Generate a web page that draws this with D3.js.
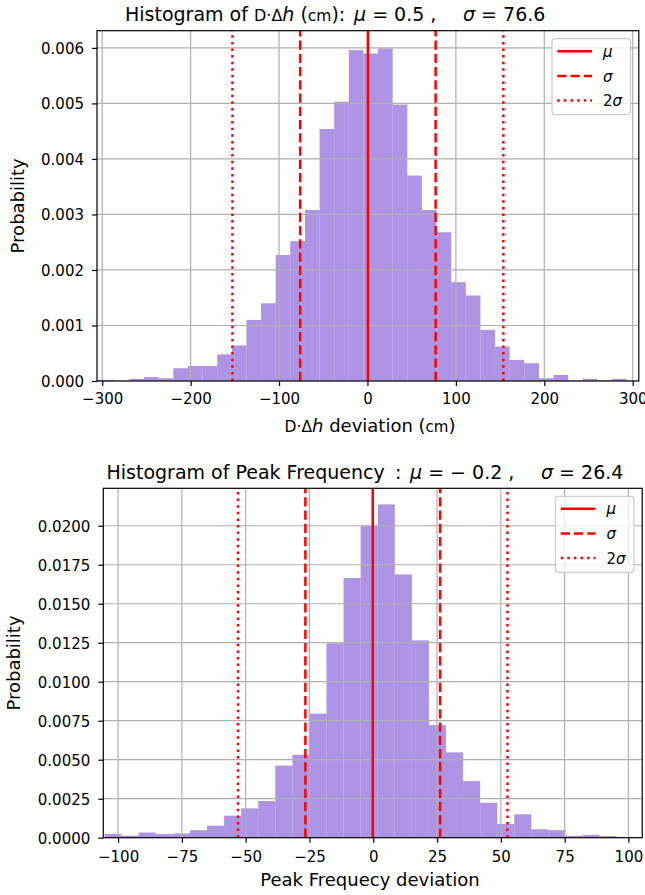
<!DOCTYPE html>
<html><head><meta charset="utf-8">
<script src="https://cdn.jsdelivr.net/npm/d3@7"></script>
<style>body{margin:0;background:#fff} svg{display:block} text{font-family:"DejaVu Sans",sans-serif;fill:#000}</style>
</head><body>
<svg id="chart" width="645" height="895"></svg>
<script>
// ---------- data ----------
const topBinStart = -318.8;
const topBinWidth = 16.54;
const topProb = [0.00002, 0.00002, 0.0, 0.00004, 0.00007, 0.00005, 0.00023, 0.00027, 0.00027, 0.00048,
  0.00064, 0.0011, 0.0014, 0.00227, 0.00252, 0.00308, 0.00454, 0.00503, 0.00596, 0.0059,
  0.00599, 0.00498, 0.0037, 0.00308, 0.00268, 0.00178, 0.00154, 0.00092, 0.00062, 0.00038,
  0.00032, 0.00005, 0.00011, 0.00001, 0.00004, 0.00001, 0.00004];
const topMu = 0.5, topSigma = 76.6;
const topXTicks = [-300, -200, -100, 0, 100, 200, 300];
const topYTicks = [0, 0.001, 0.002, 0.003, 0.004, 0.005, 0.006];

const botBinStart = -105.3;
const botBinWidth = 6.69;
const botProb = [0.00024, 0.00013, 0.00033, 0.00023, 0.00027, 0.00048, 0.00077, 0.00141, 0.00188, 0.00235,
  0.00462, 0.00532, 0.00795, 0.01246, 0.01665, 0.01998, 0.02137, 0.01688, 0.01265, 0.00722,
  0.00547, 0.00363, 0.00224, 0.00088, 0.0015, 0.00054, 0.00048, 0.00012, 0.00018, 0.0001];
const botMu = -0.2, botSigma = 26.4;
const botXTicks = [-100, -75, -50, -25, 0, 25, 50, 75, 100];
const botYTicks = [0, 0.0025, 0.005, 0.0075, 0.01, 0.0125, 0.015, 0.0175, 0.02];

const legendLabels = ["μ", "σ", "2σ"];

// ---------- drawing ----------
const svg = d3.select("#chart");
const RED = "#ff0000";
const DASH = ["none", "9.25,4", "2.5,4.1"];

function panel(o) {
  const x = d3.scaleLinear().domain(o.xDomain).range([o.left, o.right]);
  const y = d3.scaleLinear().domain(o.yDomain).range([o.bottom, o.top]);
  const g = svg.append("g");
  const clipId = "clip" + o.id;
  g.append("clipPath").attr("id", clipId).append("rect")
    .attr("x", o.left).attr("y", o.top).attr("width", o.right - o.left).attr("height", o.bottom - o.top);

  const bins = o.prob.map((v, i) => ({x0: o.binStart + i * o.binWidth, x1: o.binStart + (i + 1) * o.binWidth, v}));
  const plot = g.append("g").attr("clip-path", `url(#${clipId})`);
  plot.selectAll("rect.bar").data(bins).join("rect").attr("class", "bar")
    .attr("x", d => x(d.x0)).attr("width", d => x(d.x1) - x(d.x0))
    .attr("y", d => y(d.v)).attr("height", d => y(0) - y(d.v))
    .attr("fill", "#9370DB").attr("fill-opacity", 0.75);

  // grid (above patches, like matplotlib default)
  plot.selectAll("line.gx").data(o.xTicks).join("line")
    .attr("x1", d => x(d)).attr("x2", d => x(d)).attr("y1", o.top).attr("y2", o.bottom)
    .attr("stroke", "#b0b0b0").attr("stroke-width", 1.2);
  plot.selectAll("line.gy").data(o.yTicks).join("line")
    .attr("y1", d => y(d)).attr("y2", d => y(d)).attr("x1", o.left).attr("x2", o.right)
    .attr("stroke", "#b0b0b0").attr("stroke-width", 1.2);

  // vertical stat lines
  const vlines = [
    {v: o.mu, s: 0}, {v: o.mu - o.sigma, s: 1}, {v: o.mu + o.sigma, s: 1},
    {v: o.mu - 2 * o.sigma, s: 2}, {v: o.mu + 2 * o.sigma, s: 2}];
  plot.selectAll("line.vl").data(vlines).join("line")
    .attr("x1", d => x(d.v)).attr("x2", d => x(d.v)).attr("y1", o.bottom).attr("y2", o.top)
    .attr("stroke", RED).attr("stroke-width", 2.5).attr("stroke-dasharray", d => DASH[d.s]);

  // axes
  const xAxis = d3.axisBottom(x).tickValues(o.xTicks).tickSize(5).tickPadding(4).tickFormat(d3.format("d"));
  const gx = g.append("g").attr("transform", `translate(0,${o.bottom})`).call(xAxis);
  gx.select(".domain").remove();
  gx.selectAll("line").attr("stroke", "#000").attr("stroke-width", 1.2);
  gx.selectAll("text").attr("font-size", 15).attr("font-family", "DejaVu Sans").attr("dy", null)
    .attr("y", o.xTickBase - o.bottom);
  const yAxis = d3.axisLeft(y).tickValues(o.yTicks).tickSize(5).tickPadding(8).tickFormat(d3.format(o.yFmt));
  const gy = g.append("g").attr("transform", `translate(${o.left},0)`).call(yAxis);
  gy.select(".domain").remove();
  gy.selectAll("line").attr("stroke", "#000").attr("stroke-width", 1.2);
  gy.selectAll("text").attr("font-size", 15).attr("font-family", "DejaVu Sans").attr("dy", "0.36em");

  g.append("rect").attr("x", o.left).attr("y", o.top).attr("width", o.right - o.left).attr("height", o.bottom - o.top)
    .attr("fill", "none").attr("stroke", "#000").attr("stroke-width", 1.2);

  // legend
  const lw = 78.5, lh = 76;
  const lx = o.right - 8.3 - lw, ly = o.top + 8;
  const lg = g.append("g");
  lg.append("rect").attr("x", lx).attr("y", ly).attr("width", lw).attr("height", lh).attr("rx", 3)
    .attr("fill", "#fff").attr("fill-opacity", 0.8).attr("stroke", "#cccccc").attr("stroke-width", 1.2);
  const rows = [12.5, 37.3, 61.8];
  legendLabels.forEach((lab, i) => {
    lg.append("line").attr("x1", lx + 5.3).attr("x2", lx + 40).attr("y1", ly + rows[i]).attr("y2", ly + rows[i])
      .attr("stroke", RED).attr("stroke-width", 2.5).attr("stroke-dasharray", DASH[i]);
    const t = lg.append("text").attr("x", lx + 51).attr("y", ly + rows[i] + 5.5).attr("font-size", 15);
    if (lab.length === 2) { t.append("tspan").text(lab[0]); t.append("tspan").attr("font-style", "italic").text(lab[1]); }
    else t.append("tspan").attr("font-style", "italic").text(lab);
  });

  // y label
  g.append("text").attr("transform", `translate(${o.yLabX},${(o.top + o.bottom) / 2}) rotate(-90)`)
    .attr("text-anchor", "middle").attr("font-size", 18).text("Probability");
  return g;
}

panel({id: "t", left: 97, right: 638.8, top: 30.7, bottom: 381,
  xDomain: [topMu - 4 * topSigma, topMu + 4 * topSigma], yDomain: [0, 0.00631],
  binStart: topBinStart, binWidth: topBinWidth, prob: topProb, mu: topMu, sigma: topSigma,
  xTicks: topXTicks, yTicks: topYTicks, yFmt: ".3f", xTickBase: 404, yLabX: 24});

panel({id: "b", left: 103.3, right: 642.2, top: 488.3, bottom: 837.7,
  xDomain: [botMu - 4 * botSigma, botMu + 4 * botSigma], yDomain: [0, 0.0224],
  binStart: botBinStart, binWidth: botBinWidth, prob: botProb, mu: botMu, sigma: botSigma,
  xTicks: botXTicks, yTicks: botYTicks, yFmt: ".4f", xTickBase: 862, yLabX: 20});

// titles and labels
function addRuns(parent, runs) {
  runs.forEach(r => {
    const ts = parent.append("tspan").text(r.t);
    if (r.x !== undefined) ts.attr("x", r.x);
    if (r.s) ts.attr("font-size", r.s);
    if (r.i) ts.attr("font-style", "italic");
  });
}
const t1 = svg.append("text").attr("y", 21).attr("font-size", 19).attr("xml:space", "preserve");
addRuns(t1, [
  {t: "Histogram of ", x: 125},
  {t: "D·Δ", s: 16}, {t: "h", i: 1},
  {t: " ("}, {t: "cm", s: 15.5}, {t: "):"},
  {t: "μ", x: 354, i: 1}, {t: " = 0.5 ,"},
  {t: "σ", x: 463, i: 1}, {t: " = 76.6"}]);

const t2 = svg.append("text").attr("y", 478.5).attr("font-size", 19).attr("xml:space", "preserve");
addRuns(t2, [
  {t: "Histogram of Peak Frequency", x: 106.5}, {t: ":", x: 395},
  {t: "μ", x: 410, i: 1}, {t: " = − 0.2 ,"},
  {t: "σ", x: 541, i: 1}, {t: " = 26.4"}]);

const xl1 = svg.append("text").attr("x", 370).attr("y", 432).attr("font-size", 18)
  .attr("text-anchor", "middle").attr("xml:space", "preserve");
addRuns(xl1, [
  {t: "D·Δ", s: 15.5}, {t: "h", i: 1}, {t: " deviation ("}, {t: "cm", s: 15}, {t: ")"}]);

svg.append("text").attr("x", 370).attr("y", 886).attr("font-size", 18).attr("text-anchor", "middle")
  .text("Peak Frequecy deviation");
</script>
</body></html>
